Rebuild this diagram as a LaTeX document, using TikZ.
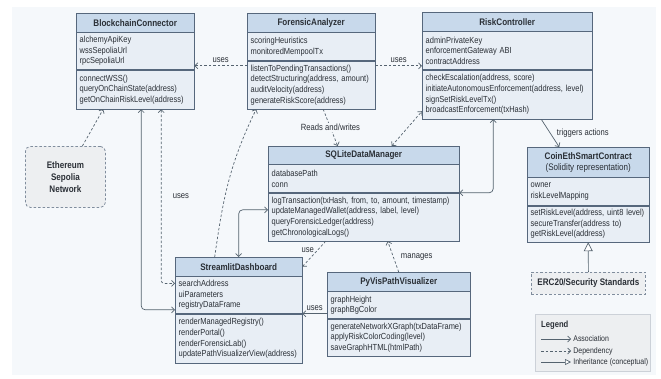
\documentclass[tikz,border=0pt]{standalone}
\usepackage{fontspec}
\setmainfont{Liberation Sans}[FakeStretch=0.85]
\usepackage{tikz}
\usetikzlibrary{positioning,shapes,arrows.meta}

\definecolor{umlline}{HTML}{56677C}
\definecolor{umlhead}{HTML}{C8D9EB}
\definecolor{umlbody}{HTML}{E8EEF5}
\definecolor{umlbg}{HTML}{F5F8FB}
\definecolor{umlgrey}{HTML}{EDEFF1}
\definecolor{umltext}{HTML}{2A2F36}
\definecolor{umlarrow}{HTML}{55636F}

\begin{document}
\begin{tikzpicture}[x=1pt, y=-1pt,
  >={Straight Barb[length=3pt,width=6pt]},
  every node/.style = {text=umltext},
  clshead/.style = {draw=umlline, fill=umlhead, anchor=north west, inner sep=0pt, minimum width=#1, align=center, font=\fontsize{9.5}{11}\selectfont\bfseries},
  clsbody/.style = {draw=umlline, fill=umlbody, anchor=north, inner xsep=3.5pt, inner ysep=0pt, text width=#1, align=left, font=\fontsize{8.8}{10.6}\selectfont},
  extbox/.style = {draw=umlline!75, fill=umlgrey, line width=0.8pt, dash pattern=on 2.5pt off 2pt, anchor=north west, align=center, font=\fontsize{9.5}{12}\selectfont\bfseries},
  link/.style = {draw=umlarrow, line width=0.7pt},
  dep/.style = {link, dash pattern=on 2.5pt off 2pt},
  inherit/.style = {-{Triangle[open, fill=white, length=9pt, width=9pt]}},
  lbl/.style = {font=\fontsize{9}{10}\selectfont},
  lgtxt/.style = {font=\fontsize{8.2}{9}\selectfont, inner sep=1pt}]
\useasboundingbox (0,0) rectangle (661,378);
\fill[white] (0,0) rectangle (661,378);
\fill[umlbg] (12,7) rectangle (656,375);

\node[clshead=118pt, minimum height=19pt] (bc) at (76,13) {BlockchainConnector};
\node[clsbody=111pt, minimum height=37pt, below=0pt of bc] (bc-attr) {alchemyApiKey\\wssSepoliaUrl\\rpcSepoliaUrl};
\node[clsbody=111pt, minimum height=39pt, below=0pt of bc-attr] (bc-ops) {connectWSS()\\queryOnChainState(address)\\getOnChainRiskLevel(address)};

\node[clshead=128pt, minimum height=19pt] (fa) at (247,13) {ForensicAnalyzer};
\node[clsbody=121pt, minimum height=28pt, below=0pt of fa] (fa-attr) {scoringHeuristics\\monitoredMempoolTx};
\node[clsbody=121pt, minimum height=48pt, below=0pt of fa-attr] (fa-ops) {listenToPendingTransactions()\\detectStructuring(address, amount)\\auditVelocity(address)\\generateRiskScore(address)};

\node[clshead=170pt, minimum height=19pt] (rc) at (422,12) {RiskController};
\node[clsbody=163pt, minimum height=38pt, below=0pt of rc] (rc-attr) {adminPrivateKey\\enforcementGateway ABI\\contractAddress};
\node[clsbody=163pt, minimum height=49pt, below=0pt of rc-attr] (rc-ops) {checkEscalation(address, score)\\initiateAutonomousEnforcement(address, level)\\signSetRiskLevelTx()\\broadcastEnforcement(txHash)};

\node[clshead=191pt, minimum height=18pt] (sql) at (268,146) {SQLiteDataManager};
\node[clsbody=184pt, minimum height=28pt, below=0pt of sql] (sql-attr) {databasePath\\conn};
\node[clsbody=184pt, minimum height=48pt, below=0pt of sql-attr] (sql-ops) {logTransaction(txHash, from, to, amount, timestamp)\\updateManagedWallet(address, label, level)\\queryForensicLedger(address)\\getChronologicalLogs()};

\node[clshead=122pt, minimum height=30pt] (coin) at (527,147) {CoinEthSmartContract\\{\mdseries (Solidity representation)}};
\node[clsbody=115pt, minimum height=28pt, below=0pt of coin] (coin-attr) {owner\\riskLevelMapping};
\node[clsbody=115pt, minimum height=36pt, below=0pt of coin-attr] (coin-ops) {setRiskLevel(address, uint8 level)\\secureTransfer(address to)\\getRiskLevel(address)};

\node[clshead=127pt, minimum height=19pt] (sd) at (175,257) {StreamlitDashboard};
\node[clsbody=120pt, minimum height=37pt, below=0pt of sd] (sd-attr) {searchAddress\\uiParameters\\registryDataFrame};
\node[clsbody=120pt, minimum height=49pt, below=0pt of sd-attr] (sd-ops) {renderManagedRegistry()\\renderPortal()\\renderForensicLab()\\updatePathVisualizerView(address)};

\node[clshead=143pt, minimum height=19pt] (pv) at (327,272) {PyVisPathVisualizer};
\node[clsbody=136pt, minimum height=27pt, below=0pt of pv] (pv-attr) {graphHeight\\graphBgColor};
\node[clsbody=136pt, minimum height=37pt, below=0pt of pv-attr] (pv-ops) {generateNetworkXGraph(txDataFrame)\\applyRiskColorCoding(level)\\saveGraphHTML(htmlPath)};

\node[extbox, rounded corners=5pt, minimum width=80pt, minimum height=61pt] (eth) at (25,146) {Ethereum\\Sepolia\\Network};
\node[extbox, minimum width=114pt, minimum height=22pt] (erc) at (531,272) {ERC20/Security Standards};

\coordinate (fa-l) at ([yshift=-5pt]fa-ops.north west);
\coordinate (fa-r) at ([yshift=-5pt]fa-ops.north east);
\draw[dep, ->] (fa-l) -- (fa-l -| bc-attr.east) node[lbl, midway, above] {uses};
\draw[dep, ->] (fa-r) -- (fa-r -| rc-attr.west) node[lbl, midway, above] {uses};
\draw[dep, ->] ([xshift=17pt]eth.north) -- ([xshift=-32pt]bc-ops.south);
\draw[link, <->, rounded corners=4pt] ([xshift=6pt]bc-ops.south) |- ([yshift=4pt]sd-attr.south west);
\draw[dep, <->, rounded corners=3pt] ([xshift=26pt]bc-ops.south) |- ([yshift=-7pt]sd-attr.north west) node[lbl, pos=0.25, right=8pt] {uses};
\draw[dep, ->] ([xshift=-24pt]sd.north) to[out=82, in=-116] ([xshift=-55pt]fa-ops.south);
\draw[dep, ->] ([xshift=12pt]fa-ops.south) -- ([xshift=-26pt]sql.north) node[lbl, midway, fill=umlbg, inner sep=1pt] {Reads and/writes};
\draw[dep, <->] ([xshift=28pt]sql.north) -- ([yshift=8pt]rc-ops.south west);
\draw[link, <->, rounded corners=4pt] ([xshift=-14pt]rc-ops.south) |- (sql-attr.south east);
\draw[link, <->, rounded corners=4pt] (sd.north) |- ([yshift=-17pt]sql-ops.north west);
\draw[dep, ->] ([xshift=-38pt]sql-ops.south) -- (sd.east) node[lbl, pos=0.35, left] {use};
\draw[dep, ->] (pv.north) -- ([xshift=24pt]sql-ops.south) node[lbl, midway, right=4pt] {manages};
\coordinate (pv-l) at ([yshift=5pt]pv-attr.south west);
\draw[link, ->] (pv-l) -- (pv-l -| sd-ops.east) node[lbl, midway, above] {uses};
\draw[link, ->] ([xshift=34pt]rc-ops.south) -- ([xshift=-29pt]coin.north) node[lbl, midway, right=3pt] {triggers actions};
\draw[link, inherit] (erc.north) -- (coin-ops.south);

\node[draw=umlline!30, fill=umlgrey, anchor=north west, minimum width=115pt, minimum height=57pt] (legend) at (535,314) {};
\node[font=\fontsize{9}{10}\selectfont\bfseries, anchor=west, inner sep=1pt] (legend-title) at ([shift={(5pt,-11pt)}]legend.north west) {Legend};
\coordinate (lg-a) at ([shift={(6pt,-25pt)}]legend.north west);
\coordinate (lg-d) at ([shift={(6pt,-37pt)}]legend.north west);
\coordinate (lg-i) at ([shift={(6pt,-48pt)}]legend.north west);
\draw[link, ->] (lg-a) -- ++(30,0) node[lgtxt, right=1pt] {Association};
\draw[dep, ->] (lg-d) -- ++(30,0) node[lgtxt, right=1pt] {Dependency};
\draw[link, -{Triangle[open, fill=white, length=6pt, width=6pt]}] (lg-i) -- ++(30,0) node[lgtxt, right=1pt] {Inheritance (conceptual)};
\end{tikzpicture}
\end{document}
